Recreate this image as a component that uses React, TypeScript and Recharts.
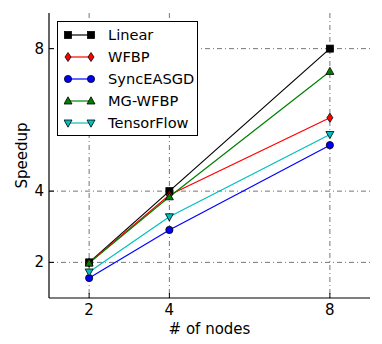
import React from 'react';
import { LineChart, Line, XAxis, YAxis, CartesianGrid } from 'recharts';

const nodes = [2, 4, 8];
const linear = [2, 4, 8];
const wfbp = [1.99, 3.89, 6.06];
const syncEASGD = [1.56, 2.91, 5.29];
const mgWfbp = [1.98, 3.84, 7.36];
const tensorFlow = [1.73, 3.28, 5.59];
const xTicks = [2, 4, 8];
const yTicks = [2, 4, 8];

const data = nodes.map((n, i) => ({
  nodes: n,
  linear: linear[i],
  wfbp: wfbp[i],
  sync: syncEASGD[i],
  mg: mgWfbp[i],
  tf: tensorFlow[i],
}));

type Shape = 'square' | 'diamond' | 'circle' | 'tri' | 'tridown';

function marker(shape: Shape, fill: string, cx: number, cy: number, key?: any) {
  const sw = 0.8;
  const st = '#000';
  if (shape === 'square') return <rect key={key} x={cx - 3.5} y={cy - 3.5} width={7} height={7} fill={fill} stroke={st} strokeWidth={sw} />;
  if (shape === 'circle') return <circle key={key} cx={cx} cy={cy} r={3.6} fill={fill} stroke={st} strokeWidth={sw} />;
  if (shape === 'diamond')
    return <polygon key={key} points={`${cx},${cy - 4.5} ${cx + 3},${cy} ${cx},${cy + 4.5} ${cx - 3},${cy}`} fill={fill} stroke={st} strokeWidth={sw} />;
  if (shape === 'tri')
    return <polygon key={key} points={`${cx},${cy - 4.2} ${cx + 4},${cy + 3} ${cx - 4},${cy + 3}`} fill={fill} stroke={st} strokeWidth={sw} />;
  return <polygon key={key} points={`${cx},${cy + 4.2} ${cx + 4},${cy - 3} ${cx - 4},${cy - 3}`} fill={fill} stroke={st} strokeWidth={sw} />;
}

const series: { key: string; name: string; color: string; shape: Shape }[] = [
  { key: 'linear', name: 'Linear', color: '#000000', shape: 'square' },
  { key: 'wfbp', name: 'WFBP', color: '#ff0000', shape: 'diamond' },
  { key: 'sync', name: 'SyncEASGD', color: '#0000ff', shape: 'circle' },
  { key: 'mg', name: 'MG-WFBP', color: '#008000', shape: 'tri' },
  { key: 'tf', name: 'TensorFlow', color: '#00bfbf', shape: 'tridown' },
];

const FONT = 'DejaVu Sans, sans-serif';

const BottomTick = (p: any) => (
  <g>
    <line x1={p.x} x2={p.x} y1={p.y} y2={p.y - 5} stroke="#000" />
    <text x={p.x} y={p.y + 17} textAnchor="middle" fontSize={15} fontFamily={FONT} fill="#000">
      {p.payload.value}
    </text>
  </g>
);
const TopTick = (p: any) => <line x1={p.x} x2={p.x} y1={p.y} y2={p.y + 5} stroke="#000" />;
const LeftTick = (p: any) => (
  <g>
    <line x1={p.x} x2={p.x + 5} y1={p.y} y2={p.y} stroke="#000" />
    <text x={p.x - 5} y={p.y + 5} textAnchor="end" fontSize={15} fontFamily={FONT} fill="#000">
      {p.payload.value}
    </text>
  </g>
);
const RightTick = (p: any) => <line x1={p.x} x2={p.x - 5} y1={p.y} y2={p.y} stroke="#000" />;

const XLabel = (p: any) => {
  const vb = p.viewBox;
  return (
    <text x={vb.x + vb.width / 2} y={vb.y + 36} textAnchor="middle" fontSize={15} fontFamily={FONT} fill="#000">
      # of nodes
    </text>
  );
};
const YLabel = (p: any) => {
  const vb = p.viewBox;
  const cy = vb.y + vb.height / 2;
  return (
    <text x={22} y={cy} transform={`rotate(-90 22 ${cy})`} textAnchor="middle" dominantBaseline="central" fontSize={15} fontFamily={FONT} fill="#000">
      Speedup
    </text>
  );
};

const LegendBox = () => (
  <div
    style={{
      position: 'absolute',
      left: 57,
      top: 21,
      border: '1px solid #000',
      background: '#fff',
      width: 141,
      height: 115,
      boxSizing: 'border-box',
      padding: '2px 0 0 0',
      fontFamily: FONT,
      fontSize: 14.6,
    }}
  >
    {series.map((s) => (
      <div key={s.key} style={{ display: 'flex', alignItems: 'center', height: 22 }}>
        <svg width={44} height={14} style={{ marginLeft: 6 }}>
          <line x1={4} x2={27} y1={7} y2={7} stroke={s.color} strokeWidth={1.2} />
          {marker(s.shape, s.color, 4, 7, 'a')}
          {marker(s.shape, s.color, 27, 7, 'b')}
        </svg>
        <span style={{ color: '#000', lineHeight: '14px' }}>{s.name}</span>
      </div>
    ))}
  </div>
);

export default function App() {
  return (
    <div style={{ position: 'absolute', left: 0, top: 0, width: 382, height: 344, background: '#fff' }}>
      <LineChart width={382} height={344} data={data} margin={{ top: 13, right: 12, bottom: 16, left: 0 }}>
        <CartesianGrid stroke="#777" strokeDasharray="5 3 1 3" horizontalValues={yTicks} verticalValues={xTicks} />
        <XAxis
          dataKey="nodes"
          type="number"
          domain={[1, 9]}
          ticks={xTicks}
          allowDataOverflow
          height={30}
          tickSize={0}
          tickMargin={0}
          tickLine={false}
          axisLine={{ stroke: '#000', strokeWidth: 1.2 }}
          tick={<BottomTick />}
          label={<XLabel />}
        />
        <XAxis
          xAxisId="top"
          dataKey="nodes"
          orientation="top"
          type="number"
          domain={[1, 9]}
          ticks={xTicks}
          allowDataOverflow
          height={0}
          tickSize={0}
          tickLine={false}
          axisLine={{ stroke: '#000', strokeWidth: 1.2 }}
          tick={<TopTick />}
        />
        <YAxis
          type="number"
          domain={[1, 9]}
          ticks={yTicks}
          allowDataOverflow
          width={49}
          tickSize={0}
          tickMargin={0}
          tickLine={false}
          axisLine={{ stroke: '#000', strokeWidth: 1.2 }}
          tick={<LeftTick />}
          label={<YLabel />}
        />
        <YAxis
          yAxisId="right"
          orientation="right"
          type="number"
          domain={[1, 9]}
          ticks={yTicks}
          allowDataOverflow
          width={0}
          tickSize={0}
          tickLine={false}
          axisLine={{ stroke: '#000', strokeWidth: 1.2 }}
          tick={<RightTick />}
        />
        {series.map((s) => (
          <Line
            key={s.key}
            dataKey={s.key}
            name={s.name}
            stroke={s.color}
            strokeWidth={1.2}
            isAnimationActive={false}
            dot={(p: any) => marker(s.shape, s.color, p.cx, p.cy, p.index)}
            activeDot={false}
          />
        ))}
      </LineChart>
      <LegendBox />
    </div>
  );
}
